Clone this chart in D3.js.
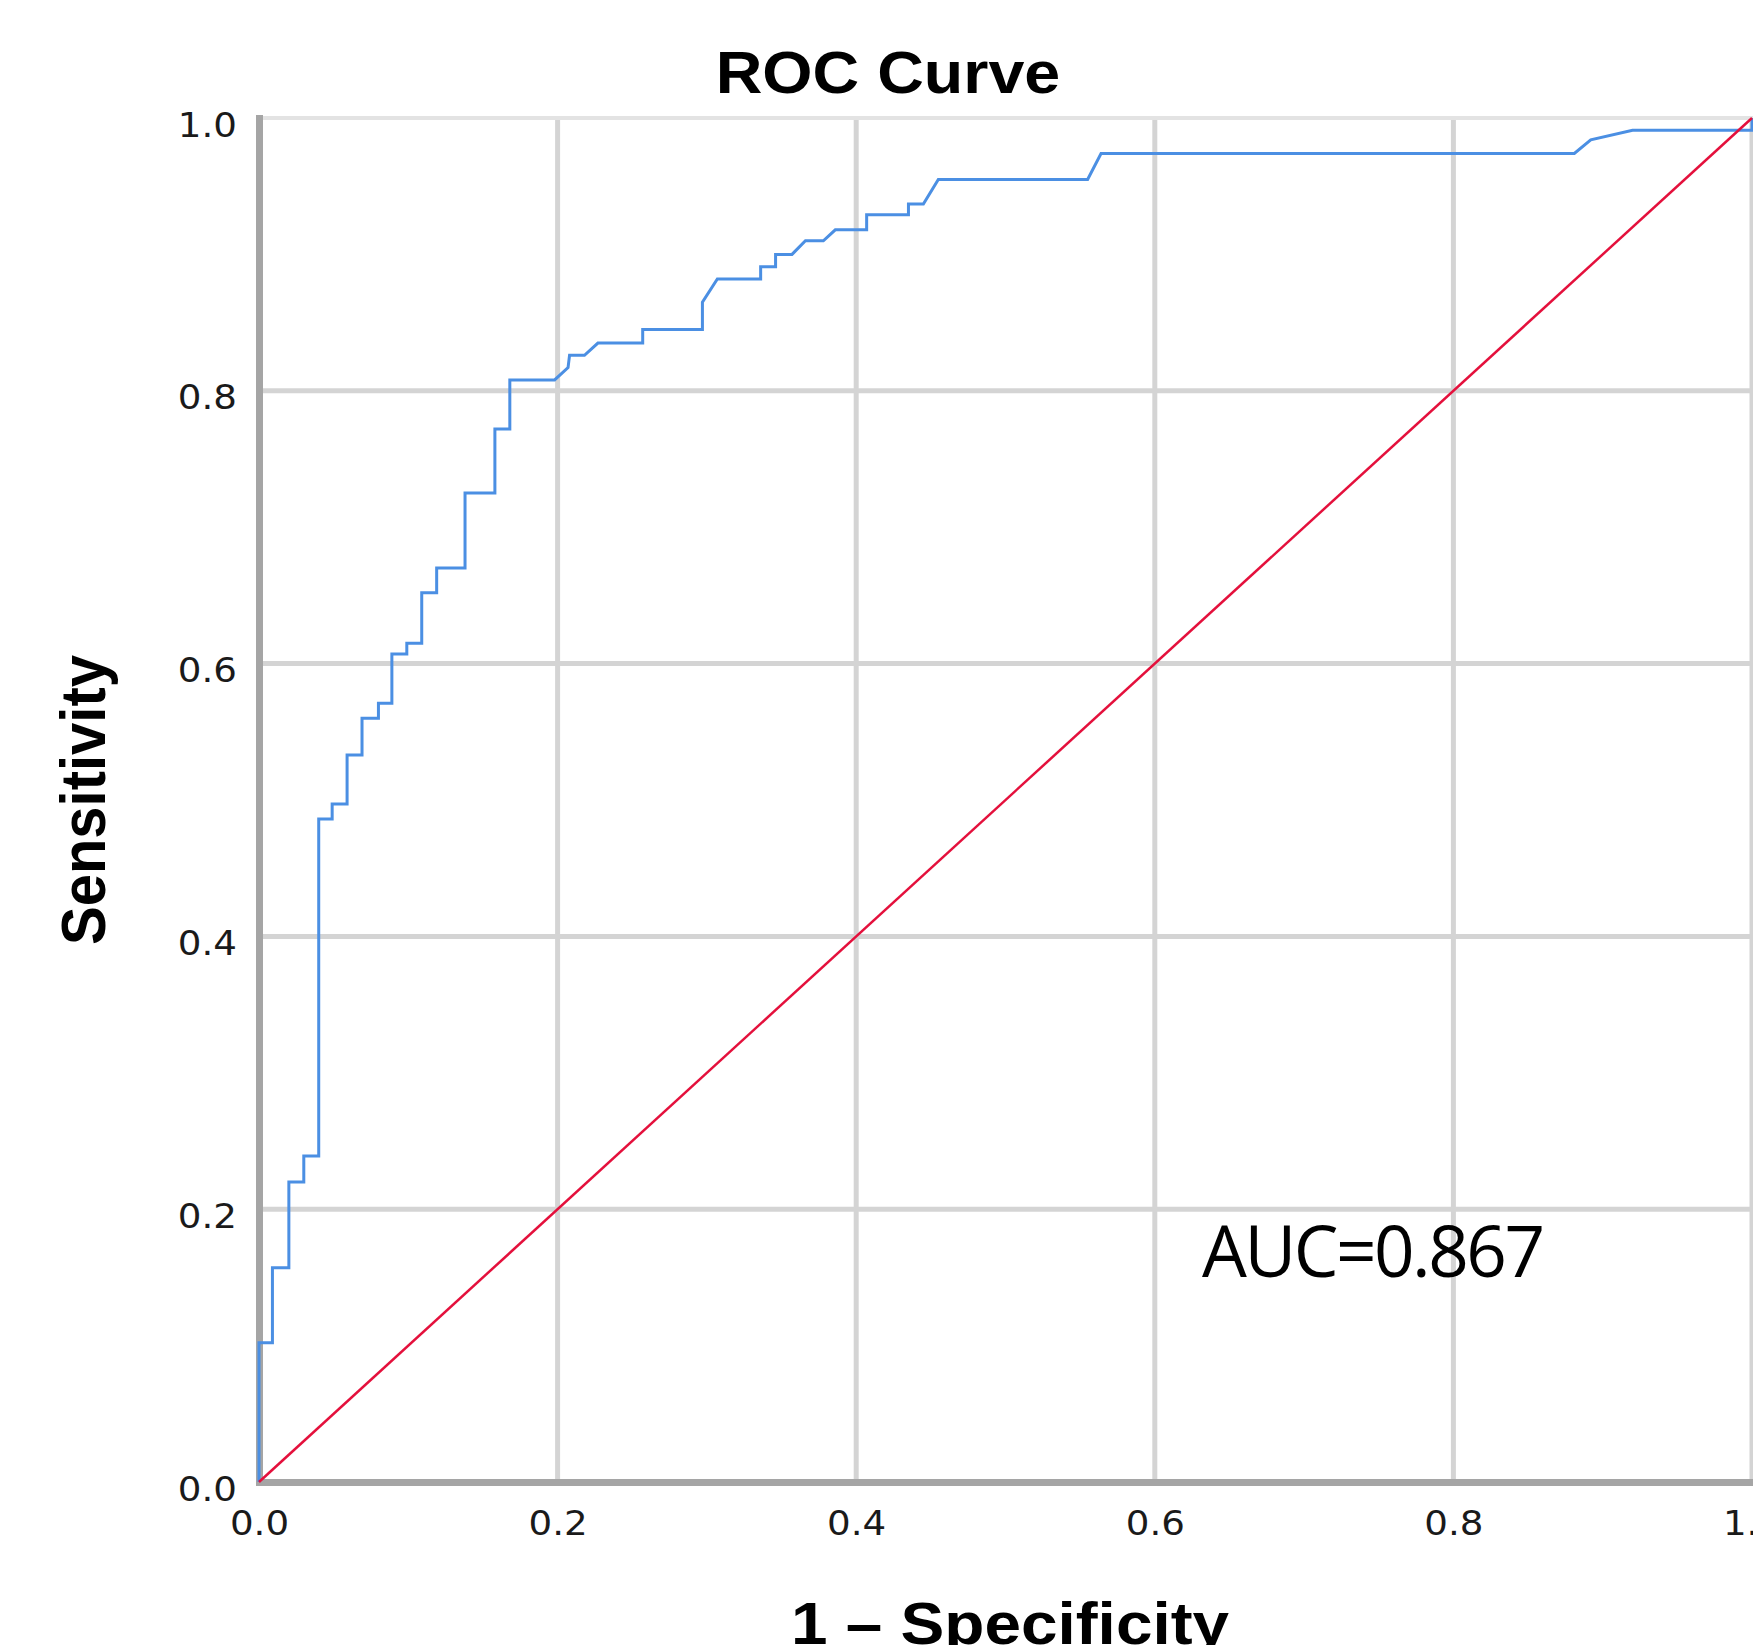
<!DOCTYPE html>
<meta charset="utf-8">
<style>
body { margin: 0; background: #fff; }
svg { display: block; background: #fff; }
.tick text { font-family: "DejaVu Sans", Verdana, sans-serif; font-size: 34px; fill: #1a1a1a; }
.title, .axis-title { font-family: "Liberation Sans", Arial, sans-serif; font-weight: bold; fill: #000; }
.auc { font-family: "Open Sans", sans-serif; font-size: 71px; letter-spacing: -2.5px; fill: #000; }
</style>
<script src="https://d3js.org/d3.v7.min.js"></script>
<body>
<script>

// ROC curve points (1 - specificity, sensitivity)
var fpr = [0, 0, 0.009, 0.009, 0.020, 0.020, 0.030, 0.030, 0.040, 0.040,
  0.049, 0.049, 0.059, 0.059, 0.069, 0.069, 0.080, 0.080, 0.089, 0.089,
  0.099, 0.099, 0.109, 0.109, 0.119, 0.119, 0.138, 0.138, 0.158, 0.158,
  0.168, 0.168, 0.198, 0.207, 0.208, 0.218, 0.227, 0.257, 0.257, 0.297,
  0.297, 0.307, 0.336, 0.336, 0.346, 0.346, 0.357, 0.366, 0.378, 0.386,
  0.407, 0.407, 0.435, 0.435, 0.445, 0.455, 0.555, 0.564, 0.881, 0.892,
  0.920, 1.000, 1.000];
var tpr = [0, 0.102, 0.102, 0.157, 0.157, 0.220, 0.220, 0.239, 0.239, 0.486,
  0.486, 0.497, 0.497, 0.533, 0.533, 0.560, 0.560, 0.571, 0.571, 0.607,
  0.607, 0.615, 0.615, 0.652, 0.652, 0.670, 0.670, 0.725, 0.725, 0.772,
  0.772, 0.808, 0.808, 0.817, 0.826, 0.826, 0.835, 0.835, 0.845, 0.845,
  0.865, 0.882, 0.882, 0.891, 0.891, 0.900, 0.900, 0.910, 0.910, 0.918,
  0.918, 0.929, 0.929, 0.937, 0.937, 0.955, 0.955, 0.974, 0.974, 0.984,
  0.991, 0.991, 1.000];

// reference diagonal
var refX = [0, 1];
var refY = [0, 1];

var xTicks = [0, 0.2, 0.4, 0.6, 0.8, 1.0];
var yTicks = [0, 0.2, 0.4, 0.6, 0.8, 1.0];

var titleText = "ROC Curve";
var xTitle = "1 \u2013 Specificity";
var yTitle = "Sensitivity";
var aucText = "AUC=0.867";

var W = 1753, H = 1645;
var stretch = 1.095; // the source picture is a bit wider than tall
var margin = {top: 118, right: 1, bottom: 163, left: 259};

var svg = d3.select("body").append("svg")
    .attr("width", W)
    .attr("height", H);

var x = d3.scaleLinear().domain([0, 1]).range([margin.left, W - margin.right]);
var y = d3.scaleLinear().domain([0, 1]).range([H - margin.bottom, margin.top]);

//grid lines
svg.append("g").selectAll("line")
    .data(xTicks.slice(1))
  .enter().append("line")
    .attr("x1", function(d) { return x(d); })
    .attr("x2", function(d) { return x(d); })
    .attr("y1", y(1))
    .attr("y2", y(0))
    .attr("stroke", "#d4d4d4")
    .attr("stroke-width", 5);

svg.append("g").selectAll("line")
    .data(yTicks.slice(1))
  .enter().append("line")
    .attr("x1", x(0))
    .attr("x2", W)
    .attr("y1", function(d) { return y(d); })
    .attr("y2", function(d) { return y(d); })
    .attr("stroke", function(d) { return d === 1 ? "#e3e3e3" : "#d4d4d4"; })
    .attr("stroke-width", function(d) { return d === 1 ? 4 : 5; });

//axes
var fmt = d3.format(".1f");

var yAxis = svg.append("g")
    .attr("transform", "translate(" + x(0) + ",0)")
    .call(d3.axisLeft(y).tickValues(yTicks).tickFormat(fmt).tickSize(0).tickSizeOuter(0));

yAxis.selectAll(".tick text")
    .attr("x", -22 / stretch)
    .attr("dy", 18)
    .attr("transform", "scale(" + stretch + ",1)");

var xAxis = svg.append("g")
    .attr("transform", "translate(0," + y(0) + ")")
    .call(d3.axisBottom(x).tickValues(xTicks).tickFormat(fmt).tickSize(0).tickSizeOuter(0));

xAxis.selectAll(".tick text")
    .attr("y", 53)
    .attr("dy", 0)
    .attr("transform", "scale(" + stretch + ",1)");

svg.selectAll(".domain")
    .attr("stroke", "#a5a5a5")
    .attr("stroke-width", 7)
    .attr("stroke-linecap", "square");

//roc curve
var line = d3.line()
    .x(function(d) { return x(d[0]); })
    .y(function(d) { return y(d[1]); });

svg.append("path")
    .datum(d3.zip(fpr, tpr))
    .attr("fill", "none")
    .attr("stroke", "#4b8fe3")
    .attr("stroke-width", 3)
    .attr("d", line);

//diagonal
svg.append("path")
    .datum(d3.zip(refX, refY))
    .attr("fill", "none")
    .attr("stroke", "#e4103c")
    .attr("stroke-width", 2.5)
    .attr("d", line);

//titles
svg.append("text")
    .attr("class", "title")
    .attr("transform", "translate(888,93) scale(" + stretch + ",1)")
    .attr("text-anchor", "middle")
    .style("font-size", "59px")
    .text(titleText);

svg.append("text")
    .attr("class", "axis-title")
    .attr("transform", "translate(1010,1644) scale(" + stretch + ",1)")
    .attr("text-anchor", "middle")
    .style("font-size", "60px")
    .text(xTitle);

svg.append("text")
    .attr("class", "axis-title")
    .attr("transform", "translate(105,800) scale(" + stretch + ",1) rotate(-90)")
    .attr("text-anchor", "middle")
    .style("font-size", "58px")
    .text(yTitle);

svg.append("text")
    .attr("class", "auc")
    .attr("x", 1202)
    .attr("y", 1277)
    .text(aucText);

</script>
